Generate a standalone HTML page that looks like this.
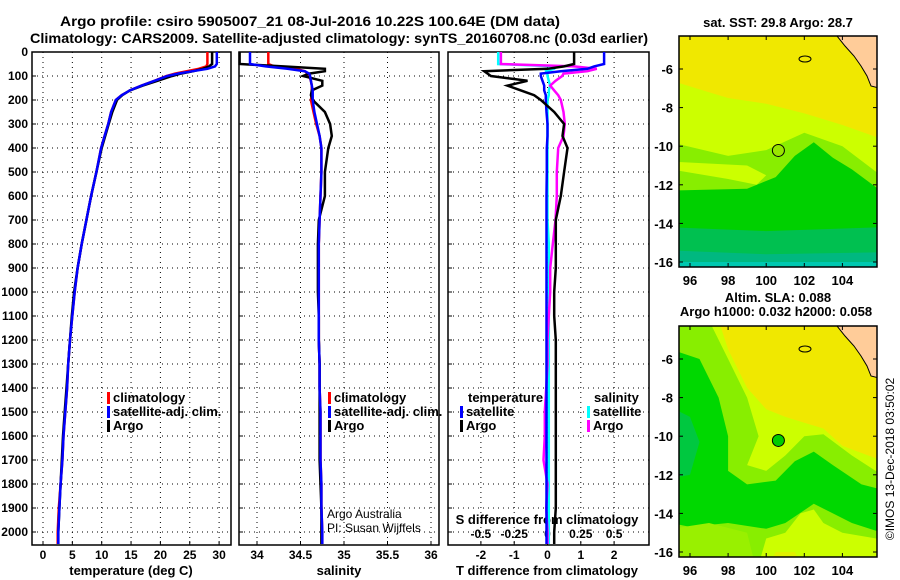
<!DOCTYPE html>
<html><head><meta charset="utf-8"><style>
html,body{margin:0;padding:0;background:#fff;}
svg{display:block;font-family:"Liberation Sans",sans-serif;font-weight:bold;}
</style></head><body>
<svg id="c" width="900" height="580" viewBox="0 0 900 580" xmlns="http://www.w3.org/2000/svg">
<text x="310" y="26" text-anchor="middle" font-size="14" textLength="500" lengthAdjust="spacingAndGlyphs">Argo profile: csiro 5905007_21 08-Jul-2016 10.22S 100.64E (DM data)</text>
<text x="339" y="43" text-anchor="middle" font-size="14" textLength="618" lengthAdjust="spacingAndGlyphs">Climatology: CARS2009. Satellite-adjusted climatology: synTS_20160708.nc (0.03d earlier)</text>
<g id="g"></g>
</svg>
<script>
// ---- data ----
const depths = [0,50,60,70,80,90,100,120,140,160,180,200,250,300,350,400,500,600,700,800,900,1000,1100,1200,1300,1400,1500,1600,1700,1800,1900,2000,2050];
const tempArgo = [28.8,28.8,28.3,27.2,25.6,23.5,22.0,19.5,17.0,14.8,13.5,12.6,11.8,11.2,10.6,10.0,9.1,8.2,7.4,6.6,5.9,5.3,4.9,4.6,4.3,4.0,3.7,3.4,3.2,3.0,2.8,2.6,2.6];
const tempClim = [28.0,28.0,27.8,26.5,24.5,22.5,21.0,19.0,16.8,14.8,13.4,12.4,11.6,11.1,10.5,9.9,9.1,8.2,7.4,6.6,5.9,5.4,5.0,4.6,4.3,4.1,3.8,3.5,3.3,3.0,2.7,2.5,2.5];
const tempSat  = [29.6,29.6,29.3,28.0,25.5,23.0,21.2,19.0,16.8,14.8,13.4,12.4,11.6,11.1,10.5,9.9,9.1,8.2,7.4,6.6,5.9,5.4,5.0,4.6,4.3,4.1,3.8,3.5,3.3,3.0,2.8,2.6,2.6];
const salArgo = [33.8,33.8,34.3,34.78,34.78,34.6,34.53,34.75,34.75,34.63,34.62,34.64,34.78,34.84,34.86,34.82,34.78,34.78,34.71,34.70,34.70,34.70,34.71,34.71,34.72,34.72,34.72,34.72,34.72,34.73,34.74,34.74,34.74];
const salClim = [34.13,34.13,34.2,34.45,34.55,34.58,34.6,34.62,34.63,34.63,34.63,34.62,34.65,34.68,34.72,34.74,34.74,34.73,34.72,34.71,34.71,34.71,34.71,34.71,34.72,34.72,34.73,34.73,34.73,34.74,34.74,34.75,34.75];
const salSat  = [33.92,33.92,34.1,34.35,34.55,34.60,34.61,34.62,34.63,34.64,34.64,34.64,34.66,34.69,34.72,34.74,34.74,34.73,34.72,34.71,34.71,34.71,34.71,34.71,34.72,34.72,34.73,34.73,34.73,34.74,34.74,34.75,34.75];
const tDiffArgo = [0.8,0.8,0.5,0.0,-1.9,-1.8,-1.7,-0.6,-1.2,-0.8,-0.4,-0.2,0.2,0.5,0.45,0.6,0.5,0.4,0.25,0.25,0.25,0.2,0.2,0.25,0.25,0.25,0.25,0.25,0.25,0.25,0.25,0.2,0.2];
const tDiffSat  = [1.7,1.7,1.4,1.2,0.4,-0.2,-0.2,-0.15,-0.1,-0.1,-0.05,-0.05,-0.03,0.0,0.0,-0.02,-0.02,-0.03,-0.03,-0.03,-0.03,-0.03,-0.03,-0.03,-0.03,-0.03,-0.03,-0.03,-0.03,-0.03,-0.03,-0.03,-0.03];
const sDiffArgo = [-0.35,-0.35,0.2,0.37,0.30,0.12,0.11,0.06,0.02,0.05,0.08,0.10,0.12,0.13,0.12,0.08,0.07,0.07,0.06,0.04,0.02,0.02,0.01,0.0,0.0,-0.01,-0.02,-0.02,-0.03,0.0,-0.01,0.0,0.0];
const sDiffSat  = [-0.37,-0.37,0.07,0.05,-0.01,0.0,0.0,0.01,0.02,0.01,0.01,0.0,0.0,0.0,0.0,0.0,0.0,0.0,0.0,0.01,0.01,0.01,0.01,0.01,0.01,0.01,0.01,0.01,0.01,0.01,0.01,0.01,0.01];
const depthTicks = [0,100,200,300,400,500,600,700,800,900,1000,1100,1200,1300,1400,1500,1600,1700,1800,1900,2000];
const tempTicks = [0,5,10,15,20,25,30];
const salTicks = [34,34.5,35,35.5,36];
const salTickLabels = ["34","34.5","35","35.5","36"];
const tdTicks = [-2,-1,0,1,2];
const sdTicks = [-0.5,-0.25,0,0.25,0.5];
const sdTickLabels = ["-0.5","-0.25","0","0.25","0.5"];
const lonTicks = [96,98,100,102,104];
const latTicks = [-6,-8,-10,-12,-14,-16];
const argoLon = 100.64, argoLat = -10.22;

// ---- helpers ----
const NS="http://www.w3.org/2000/svg";
const G=document.getElementById('g');
function mk(tag,at,parent){const e=document.createElementNS(NS,tag);for(const k in at)e.setAttribute(k,at[k]);(parent||G).appendChild(e);return e;}
const yD = d => 52 + d*0.24;
const xT = t => 43 + t*5.87;
const xS = s => 257 + (s-34)*87;
const xTD = v => 547.5 + v*33.3;
const xSD = v => 547.5 + v*133.2;
const PT=52, PB=545;
function panel(x0,x1,name){
  const r=mk('rect',{x:x0,y:PT,width:x1-x0,height:PB-PT,fill:'none',stroke:'#000','stroke-width':1.5});
  
  
  depthTicks.forEach(d=>{
    const l=mk('line',{x1:x0,x2:x1,y1:yD(d),y2:yD(d),stroke:'#000','stroke-width':1,'stroke-dasharray':'1,4'});
    
    
    mk('line',{x1:x0,x2:x0+4,y1:yD(d),y2:yD(d),stroke:'#000'});
  });
}
function vgrid(xs,f){xs.forEach(v=>{
  const l=mk('line',{x1:f(v),x2:f(v),y1:PT,y2:PB,stroke:'#000','stroke-width':1,'stroke-dasharray':'1,4'});
  
  
  mk('line',{x1:f(v),x2:f(v),y1:PB,y2:PB-4,stroke:'#000'});
});}
function line(vals,f,color,name,w){
  let d='';
  vals.forEach((v,i)=>{const x=f(v).toFixed(1),y=Math.min(yD(depths[i]),PB).toFixed(1);d+=(i?'L':'M')+x+','+y;});
  const p=mk('path',{d:d,fill:'none',stroke:color,'stroke-width':w||2.5,'stroke-linejoin':'miter'});
  
  
}
function txt(x,y,s,at,name){const t=mk('text',Object.assign({x:x,y:y,'font-size':12},at||{}));t.textContent=s;
  
  return t;}

// panel 1
panel(32,231,'temperature-panel');
vgrid(tempTicks,xT);
depthTicks.forEach(d=>txt(28,yD(d)+4,String(d),{'text-anchor':'end'},'depth-tick-label'));
tempTicks.forEach(t=>txt(xT(t),559,String(t),{'text-anchor':'middle'},'temp-tick-label'));
txt(131,575,'temperature (deg C)',{'text-anchor':'middle','font-size':13},'temp-axis-title');
line(tempClim,xT,'#f00','temp-climatology-line');
line(tempArgo,xT,'#000','temp-argo-line');
line(tempSat,xT,'#00f','temp-satellite-line');
// panel 2
panel(239,439,'salinity-panel');
vgrid(salTicks,xS);
salTicks.forEach((s,i)=>txt(xS(s),559,salTickLabels[i],{'text-anchor':'middle'},'sal-tick-label'));
txt(339,575,'salinity',{'text-anchor':'middle','font-size':13},'salinity-axis-title');
line(salClim,xS,'#f00','sal-climatology-line');
line(salArgo,xS,'#000','sal-argo-line');
line(salSat,xS,'#00f','sal-satellite-line');
txt(327,518,'Argo Australia',{'font-weight':'normal','font-size':12},'credit-argo-australia');
txt(327,532,'PI: Susan Wijffels',{'font-weight':'normal','font-size':12},'credit-pi');
// panel 3
panel(448,649,'difference-panel');
vgrid(tdTicks,xTD);
tdTicks.forEach(t=>txt(xTD(t),559,String(t),{'text-anchor':'middle'},'tdiff-tick-label'));
sdTicks.forEach((s,i)=>txt(xSD(s),538,sdTickLabels[i],{'text-anchor':'middle'},'sdiff-tick-label'));
txt(547,575,'T difference from climatology',{'text-anchor':'middle','font-size':13},'tdiff-axis-title');
txt(547,524,'S difference from climatology',{'text-anchor':'middle','font-size':13},'sdiff-axis-title');
line(sDiffSat,xSD,'#0ff','sdiff-satellite-line');
line(sDiffArgo,xSD,'#f0f','sdiff-argo-line');
line(tDiffSat,xTD,'#00f','tdiff-satellite-line');
line(tDiffArgo,xTD,'#000','tdiff-argo-line');

// legends
function legend(x,y,color,label,name){
  const r=mk('rect',{x:x,y:y-10,width:3,height:12,fill:color});
  
  
  txt(x+6,y,label,{'font-size':13},name);
}
legend(107,402,'#f00','climatology','legend-climatology');
legend(107,416,'#00f','satellite-adj. clim.','legend-satellite-adj');
legend(107,430,'#000','Argo','legend-argo');
legend(328,402,'#f00','climatology','legend-sal-climatology');
legend(328,416,'#00f','satellite-adj. clim.','legend-sal-satellite-adj');
legend(328,430,'#000','Argo','legend-sal-argo');
txt(468,402,'temperature',{'font-size':13},'legend-temperature-heading');
legend(460,416,'#00f','satellite','legend-tdiff-satellite');
legend(460,430,'#000','Argo','legend-tdiff-argo');
txt(594,402,'salinity',{'font-size':13},'legend-salinity-heading');
legend(587,416,'#0ff','satellite','legend-sdiff-satellite');
legend(587,430,'#f0f','Argo','legend-sdiff-argo');

// ---- maps ----
const mx = lon => 690 + (lon-96)*19.05;
function map(top,name,base,polys,circleFill){
  const lat0y = top===36 ? 69 : 359;
  const my = lat => lat0y + (-6-lat)*19.3;
  const g=mk('g',{});
  
  
  mk('rect',{x:679,y:top,width:198,height:231,fill:base},g);
  const cp=mk('clipPath',{id:'cp'+top},g);
  mk('rect',{x:679,y:top,width:198,height:231},cp);
  const inner=mk('g',{'clip-path':'url(#cp'+top+')'},g);
  polys.forEach(p=>mk('polygon',{points:p[1].map(q=>mx(q[0]).toFixed(1)+','+my(q[1]).toFixed(1)).join(' '),fill:p[0]},inner));
  // land
  mk('polygon',{points:[[158,0],[200,0],[200,52],[192,50],[188,40],[182,30],[175,20],[166,10]].map(q=>(679+q[0])+','+(top+q[1])).join(' '),fill:'#ffcc99',stroke:'#000','stroke-width':1},inner);
  mk('ellipse',{cx:679+126,cy:top+23,rx:6,ry:3,fill:'none',stroke:'#000'},inner);
  const c=mk('circle',{cx:mx(argoLon),cy:my(argoLat),r:6,fill:circleFill,stroke:'#000','stroke-width':1},g);
  
  
  mk('rect',{x:679,y:top,width:198,height:231,fill:'none',stroke:'#000','stroke-width':1.5},g);
  lonTicks.forEach(l=>{mk('line',{x1:mx(l),x2:mx(l),y1:top,y2:top+4,stroke:'#000'},g);mk('line',{x1:mx(l),x2:mx(l),y1:top+231,y2:top+227,stroke:'#000'},g);
    txt(mx(l),top+249,String(l),{'text-anchor':'middle','font-size':13},'lon-tick-label');});
  latTicks.forEach(l=>{mk('line',{x1:679,x2:683,y1:my(l),y2:my(l),stroke:'#000'},g);mk('line',{x1:877,x2:873,y1:my(l),y2:my(l),stroke:'#000'},g);
    txt(673,my(l)+5,String(l),{'text-anchor':'end','font-size':13},'lat-tick-label');});
}
map(36,'sst-map','#f0e800',[
  ['#ccff00',[[95,-6.6],[97,-7.2],[98,-7.5],[100,-7.8],[102,-8.3],[104,-8.9],[106,-9.6],[106,-17],[95,-17]]],
  ['#88ee00',[[95,-9.8],[98,-10.5],[100,-10.2],[102,-9.3],[104,-10],[106,-11.5],[106,-17],[95,-17]]],
  ['#ccff00',[[95,-11.2],[98,-11.7],[99.5,-12],[100,-11.5],[99,-11],[95,-10.8]]],
  ['#00d000',[[95,-12.3],[99,-12.2],[100.5,-11.6],[101.5,-10.5],[102.5,-9.8],[103.5,-10.6],[104.5,-11.2],[106,-12.3],[106,-17],[95,-17]]],
  ['#00c050',[[95,-14.2],[100,-14.4],[106,-14.2],[106,-17],[95,-17]]],
  ['#00b880',[[95,-15.4],[100,-15.6],[106,-15.5],[106,-17],[95,-17]]],
  ['#00c8b0',[[95,-16.0],[106,-16.0],[106,-17],[95,-17]]]
],'#99e600');
map(326,'sla-map','#ccff00',[
  ['#f0e800',[[97.5,-4],[107,-4],[107,-11.6],[104,-10.5],[103,-9.6],[102,-9.3],[101,-9.0],[100,-8.6],[99,-7.5],[98.5,-6.5],[98,-5.5]]],
  ['#88ee00',[[95,-4],[97,-4],[98,-6],[99,-8],[99.6,-10],[99,-11.5],[100,-11.8],[101,-11],[102,-10],[103,-9.9],[104.5,-11],[107,-12.6],[107,-17],[95,-17]]],
  ['#00d800',[[95,-5.5],[96.5,-6],[97.5,-8],[98,-10],[98,-11.8],[99,-12.5],[100.5,-12.3],[101.5,-11.3],[102.5,-10.8],[103.5,-11.5],[105,-12.5],[107,-13],[107,-15.3],[104.5,-14.5],[103.5,-14],[102.5,-13.5],[101,-14.5],[100,-14.8],[98,-14.5],[96,-14.7],[95,-14.5]]],
  ['#00c840',[[95,-8.5],[96,-9],[96.5,-10.3],[96,-12],[95,-12.2]]],
  ['#99f000',[[95,-14.8],[97,-14.5],[99,-15],[99.5,-17],[95,-17]]],
  ['#ccff00',[[99.5,-17],[100,-15.3],[101,-15],[101.8,-14],[102.5,-13.8],[103,-14.5],[104,-15],[107,-15.5],[107,-17]]],
  ['#e0f000',[[100,-17],[100.5,-16],[101.5,-16],[102,-17]]]
],'#00cc00');
txt(778,27,'sat. SST: 29.8 Argo: 28.7',{'text-anchor':'middle','font-size':13},'sst-map-title');
txt(778,302,'Altim. SLA: 0.088',{'text-anchor':'middle','font-size':13},'sla-map-title');
txt(776,316,'Argo h1000: 0.032 h2000: 0.058',{'text-anchor':'middle','font-size':13},'sla-map-subtitle');
txt(0,0,'©IMOS 13-Dec-2018 03:50:02',{'text-anchor':'middle','font-size':12,'font-weight':'normal',transform:'translate(894,459) rotate(-90)'},'imos-timestamp');
</script>
</body></html>
